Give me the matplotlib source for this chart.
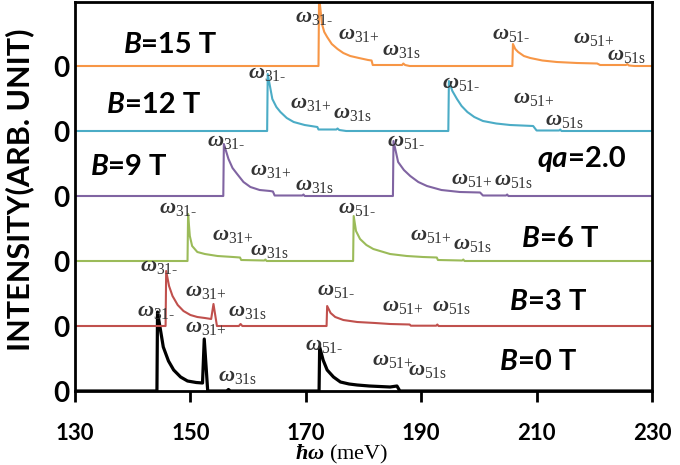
import matplotlib.pyplot as plt
import numpy as np

plt.rcParams['mathtext.fontset'] = 'custom'
plt.rcParams['mathtext.rm'] = 'Liberation Serif'
plt.rcParams['mathtext.it'] = 'Liberation Serif:italic:bold'
plt.rcParams['mathtext.bf'] = 'Liberation Serif:bold'
plt.rcParams['font.family'] = ['Lato', 'DejaVu Sans']

# energy (meV) and intensity (arb. unit)
e_b0 = [130, 144.2, 144.3, 145.3, 146.2, 147.1, 148.3, 149.5, 151.0, 152.1, 152.4, 153.0,
        156.3, 156.6, 156.9, 172.3, 172.4, 173.0, 173.7, 174.8, 176.0, 177.5, 178.9, 181.0,
        184.6, 185.8, 186.3, 230]
i_b0 = [0, 0, 79, 44, 30, 21, 14, 10, 8.5, 8, 52, 0,
        0, 1.5, 0, 0, 44, 31, 21, 14, 9, 7, 6, 5,
        4, 5, 0, 0]

e_b3 = [130, 145.7, 145.8, 146.3, 146.9, 147.8, 148.8, 150.0, 151.2, 152.5, 153.6, 154.0, 154.6,
        158.4, 158.7, 159.0, 173.6, 173.7, 174.3, 175.1, 176.5, 178.9, 182.0, 184.6, 188.0, 188.2,
        192.6, 192.8, 193.0, 230]
i_b3 = [0, 0, 55, 40, 30, 21, 15, 11, 9, 8, 7, 22, 0,
        0, 2, 0, 0, 20, 13, 9, 6, 4, 3, 2, 1.5, 0.3,
        0.3, 1.5, 0, 0]

e_b6 = [130, 149.5, 149.6, 149.9, 150.3, 151.2, 152.5, 154.7, 157.4, 158.6, 158.8,
        162.8, 163.0, 163.2, 178.2, 178.3, 178.7, 179.4, 180.5, 181.7, 184.6, 187.5, 190.3,
        192.7, 192.9, 197.1, 197.3, 197.5, 230]
i_b6 = [0, 0, 47, 25, 15, 9, 7, 5, 4, 3.5, 1,
        0.5, 1.5, 0, 0, 45, 30, 22, 16, 12, 7, 5, 4,
        3.5, 1, 0.5, 1.5, 0, 0]

e_b9 = [130, 155.7, 155.8, 156.6, 157.3, 158.1, 159.2, 160.4, 162.0, 163.8, 164.3, 164.6,
        169.4, 169.6, 169.8, 185.1, 185.2, 186.0, 187.0, 188.1, 189.5, 191.0, 193.5, 196.7,
        200.2, 200.7, 204.7, 204.9, 205.1, 230]
i_b9 = [0, 0, 52, 37, 28, 22, 14, 9, 6, 5, 4.5, 0.5,
        0.5, 1.5, 0, 0, 55, 34, 26, 20, 14, 10, 6, 4,
        3.5, 0.5, 0.5, 1.5, 0, 0]

e_b12 = [130, 163.3, 163.4, 164.2, 164.9, 165.6, 166.7, 167.9, 169.8, 172.0, 172.2,
         175.3, 175.5, 175.8, 177.0, 194.7, 194.8, 195.4, 196.2, 197.0, 198.0, 199.2, 200.7,
         203.0, 205.4, 209.4, 210.0, 213.9, 214.1, 214.3, 230]
i_b12 = [0, 0, 57, 32, 24, 19, 13, 9, 6, 4, 1.5,
         1.5, 2.5, 1, 0, 0, 50, 40, 32, 25, 19, 14, 10,
         7.5, 6, 5, 0.5, 0.5, 1.5, 0, 0]

e_b15 = [130, 172.2, 172.3, 172.8, 173.2, 173.7, 174.5, 175.5, 176.5, 177.7, 179.2, 180.8,
         181.4, 181.6, 186.7, 186.9, 187.2, 188.0, 205.8, 205.9, 206.3, 206.8, 207.8, 208.9,
         211.0, 213.5, 217.0, 220.5, 221.0, 225.5, 225.7, 226.0, 227.0, 230]
i_b15 = [0, 0, 70, 42, 34, 29, 22, 17, 13, 10, 8, 6,
         5.5, 1, 1, 2.5, 1, 0, 0, 22, 17, 14, 10, 8,
         5.5, 4, 3, 2.5, 1, 1, 2, 0.5, 0, 0]

fields = ['0', '3', '6', '9', '12', '15']
modes = ['31-', '31+', '31s', '51-', '51+', '51s']
xticks = [130, 150, 170, 190, 210, 230]

OFFSET = 65
colors = ['black', '#C0504D', '#9BBB59', '#8064A2', '#4BACC6', '#F79646']
widths = [2.3, 1.5, 1.5, 1.5, 1.5, 1.5]

# label spots (energy, height) for each spectrum, in mode order
mode_pos = [
    [(140.8, 80), (149.1, 64), (154.8, 15), (169.9, 46), (181.5, 31), (187.7, 21)],
    [(141.3, 125), (149.1, 100), (156.6, 80), (172.0, 101), (183.2, 85), (191.9, 85)],
    [(144.5, 183), (153.8, 156), (160.4, 141), (175.6, 183), (188.1, 156), (195.5, 147)],
    [(152.9, 250), (160.4, 221), (168.2, 206), (184.1, 250), (195.2, 212), (202.6, 211)],
    [(160.0, 318), (167.3, 288), (174.8, 278), (193.6, 308), (205.9, 293), (211.5, 271)],
    [(168.2, 374), (175.6, 357), (183.2, 341), (202.3, 357), (216.3, 353), (222.2, 336)],
]
field_pos = [(203.7, 21), (205.4, 81), (207.5, 144), (132.7, 216), (135.6, 278), (138.4, 338)]

spectra = [(e_b0, i_b0), (e_b3, i_b3), (e_b6, i_b6), (e_b9, i_b9), (e_b12, i_b12), (e_b15, i_b15)]

fig = plt.figure(figsize=(6.8, 4.65), dpi=100)
ax = fig.add_axes([75/680, 74/465, 577/680, 389/465])

for k, (e, inten) in enumerate(spectra):
    ax.plot(e, np.array(inten) + k*OFFSET, color=colors[k], lw=widths[k],
            solid_joinstyle='round')
    for m, (x, y) in enumerate(mode_pos[k]):
        ax.text(x, y, r'$\omega_{\mathrm{%s}\text{%s}}$' % (modes[m][:2], modes[m][2]),
                fontsize=16, color='#333333', ha='left', va='center')
    bx, by = field_pos[k]
    t = ax.text(bx, by, 'B', fontsize=21, fontweight='bold', style='italic',
                ha='left', va='baseline')
    ax.annotate('=' + fields[k] + ' T', xy=(1, 0), xycoords=t, fontsize=21,
                fontweight='bold', ha='left', va='bottom')

t = ax.text(210.1, 224, 'qa', fontsize=21, fontweight='bold', style='italic',
            ha='left', va='baseline')
ax.annotate('=2.0', xy=(1, 0), xycoords=t, fontsize=21, fontweight='bold',
            ha='left', va='bottom')

ax.set_xlim(130, 230)
ax.set_ylim(0, 389)
ax.set_xticks(xticks)
ax.set_xticklabels([str(v) for v in xticks], fontsize=16, fontweight='bold')
ax.set_yticks([k*OFFSET for k in range(6)])
ax.set_yticklabels(['0']*6, fontsize=20, fontweight='bold')
ax.tick_params(axis='x', direction='out', length=8, width=2, pad=15)
ax.tick_params(axis='y', length=0, pad=4)
for s in ax.spines.values():
    s.set_linewidth(2)

fig.text(20/680, 1 - 190/465, 'INTENSITY(ARB. UNIT)', rotation=90, fontsize=22,
         fontweight='bold', ha='center', va='center')
fig.text(342/680, 1 - 443/465, r'$\hbar\omega$ (meV)', fontsize=16,
         family='Liberation Serif', ha='center', va='top')

fig.savefig('out.png', dpi=100)
